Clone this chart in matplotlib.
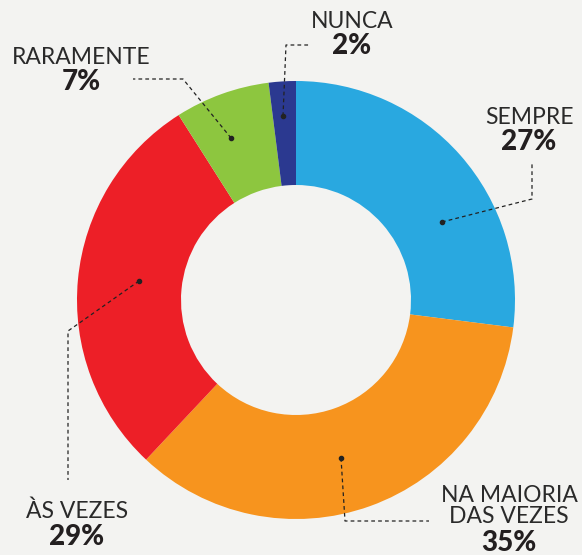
import matplotlib
matplotlib.use("Agg")
import matplotlib.pyplot as plt

# -------- Data --------
labels = ["SEMPRE", "NA MAIORIA\nDAS VEZES", "ÀS VEZES", "RARAMENTE", "NUNCA"]
values = [27, 35, 29, 7, 2]
colors = ["#29a8e0", "#f7941e", "#ed1f27", "#8dc63f", "#2b3990"]

# label layout (pixel coords, y from top): text x, name y, pct y
label_pos = [(529, 117, 142), (509, 506, 543), (77, 511, 537), (81, 57, 82), (352, 21, 46)]
# leader lines: dot first, then corners
leaders = [
    [(442, 222), (532, 199), (532, 164)],
    [(341, 458), (345, 521), (429, 521)],
    [(139, 281), (68, 331), (68, 480)],
    [(231, 138), (183, 79), (133, 79)],
    [(283, 116), (286, 45), (311, 45)],
]

W, H = 582, 555
BG = "#f3f3f1"

fig = plt.figure(figsize=(W / 100, H / 100), dpi=100, facecolor=BG)
ax = fig.add_axes([0, 0, 1, 1])
ax.set_facecolor(BG)

R = 219
ax.pie(values, colors=colors, startangle=90, counterclock=False,
       center=(296, H - 300), radius=R, frame=True,
       wedgeprops=dict(width=R - 115, linewidth=0))
ax.set_xlim(0, W)
ax.set_ylim(0, H)
ax.set_aspect("equal")
ax.axis("off")

for lab, val, (tx, ny, py) in zip(labels, values, label_pos):
    ax.text(tx, H - ny, lab, ha="center", va="center", fontsize=16.5,
            family="Lato", fontweight="normal", color="#2a2a2a", linespacing=1.0)
    ax.text(tx, H - py, f"{val}%", ha="center", va="center", fontsize=20,
            family="Lato", fontweight="black", color="#231f20")

for pts in leaders:
    xs = [p[0] for p in pts]
    ys = [H - p[1] for p in pts]
    ax.plot(xs, ys, color="#222222", lw=0.9, ls=(0, (3, 2.5)))
    ax.plot(xs[0], ys[0], "o", color="#222222", ms=3)

fig.savefig("out.png", dpi=100, facecolor=BG)
